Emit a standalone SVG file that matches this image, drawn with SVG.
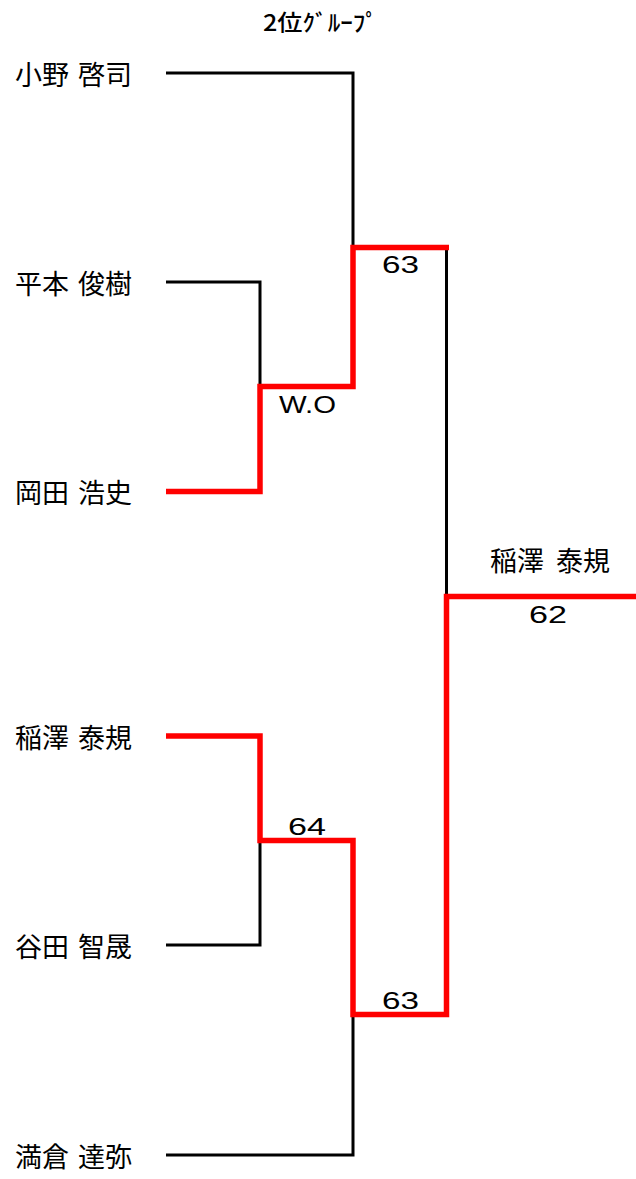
<svg xmlns="http://www.w3.org/2000/svg" width="636" height="1179" viewBox="0 0 636 1179">
<style>
.bg{fill:#fff}
.name{font-family:"Noto Sans CJK JP","Noto Sans",sans-serif;font-size:27px;fill:#000}
.score{font-family:"Liberation Sans",Arial,sans-serif;font-size:24px;fill:#000}
.title{font-family:"Noto Sans CJK JP",sans-serif;font-size:23px;font-weight:500;fill:#000}
.blk{fill:none;stroke:#000;stroke-width:3;stroke-linecap:butt;stroke-linejoin:miter}
.red{fill:none;stroke:#ff0000;stroke-width:5.5;stroke-linecap:butt;stroke-linejoin:miter}
</style>
<rect class="bg" x="0" y="0" width="636" height="1179"/>
<text class="title" x="263" y="31" textLength="115" lengthAdjust="spacingAndGlyphs">2位ｸﾞﾙｰﾌﾟ</text>
<g id="connectors">
<path class="blk" d="M166,73 H353 V248"/>
<path class="blk" d="M166,282 H260 V386"/>
<path class="blk" d="M166,945 H260 V840"/>
<path class="blk" d="M166,1155 H353 V1015"/>
<path class="blk" d="M446.5,248 V597"/>
<path class="red" d="M166,491.5 H260 V386.5 H353 V247.5 H449"/>
<path class="red" d="M166,736 H260 V840.5 H353 V1014.5 H446.5 V596.5 H636"/>
</g>
<g id="p1"><text class="name" y="85"><tspan x="15">小野</tspan><tspan x="78">啓司</tspan></text></g>
<g id="p2"><text class="name" y="294"><tspan x="15">平本</tspan><tspan x="78">俊樹</tspan></text></g>
<g id="p3"><text class="name" y="503"><tspan x="15">岡田</tspan><tspan x="78">浩史</tspan></text></g>
<g id="p4"><text class="name" y="748"><tspan x="15">稲澤</tspan><tspan x="78">泰規</tspan></text></g>
<g id="p5"><text class="name" y="957"><tspan x="15">谷田</tspan><tspan x="78">智晟</tspan></text></g>
<g id="p6"><text class="name" y="1167"><tspan x="15">満倉</tspan><tspan x="78">達弥</tspan></text></g>
<g id="winner"><text class="name" y="571"><tspan x="490">稲澤</tspan><tspan x="556">泰規</tspan></text></g>
<g id="s1"><text class="score" x="382" y="273" textLength="37" lengthAdjust="spacingAndGlyphs">63</text></g>
<g id="s2"><text class="score" x="279" y="413" textLength="57" lengthAdjust="spacingAndGlyphs">W.O</text></g>
<g id="s3"><text class="score" x="288" y="835" textLength="38" lengthAdjust="spacingAndGlyphs">64</text></g>
<g id="s4"><text class="score" x="382" y="1009" textLength="37" lengthAdjust="spacingAndGlyphs">63</text></g>
<g id="s5"><text class="score" x="529" y="623" textLength="38" lengthAdjust="spacingAndGlyphs">62</text></g>
</svg>
